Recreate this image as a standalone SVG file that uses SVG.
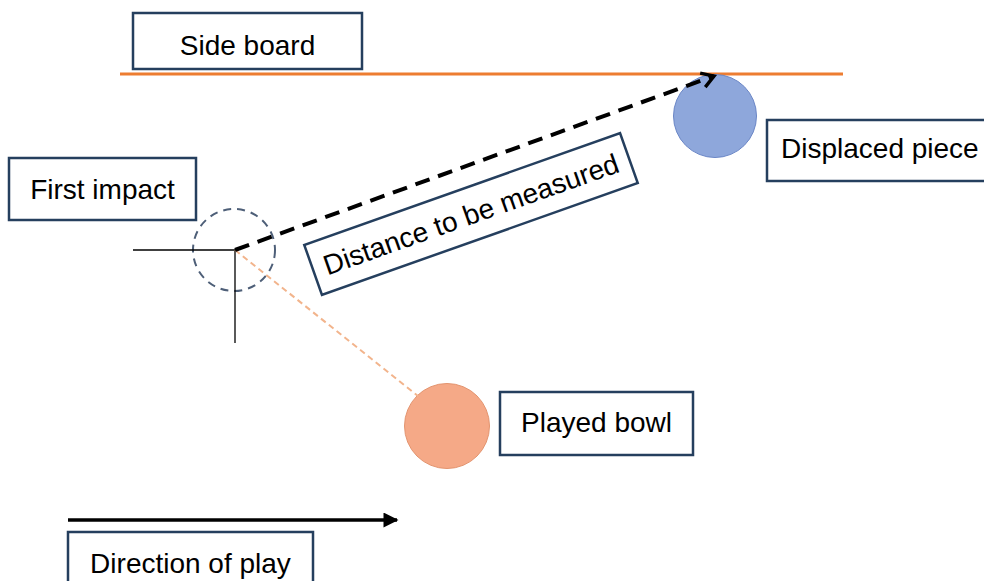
<svg xmlns="http://www.w3.org/2000/svg" width="984" height="581" viewBox="0 0 984 581">
  <defs>
    <style>
      .box { fill: #ffffff; stroke: #253f5e; stroke-width: 2.5; }
      .lbl { font-family: "Liberation Sans", Arial, sans-serif; font-size: 28px; fill: #000000; }
      .mid { text-anchor: middle; }
    </style>
    <marker id="openHead" viewBox="0 0 20 20" refX="17" refY="10" markerWidth="20" markerHeight="20" markerUnits="userSpaceOnUse" orient="auto">
      <path d="M5,2.5 L17,10 L5,17.5" fill="none" stroke="#000" stroke-width="3.4" stroke-linejoin="miter"/>
    </marker>
    <marker id="solidHead" viewBox="0 0 10 10" refX="9" refY="5" markerWidth="17" markerHeight="15" markerUnits="userSpaceOnUse" orient="auto">
      <path d="M0,0 L10,5 L0,10 Z" fill="#000"/>
    </marker>
  </defs>

  <rect width="984" height="581" fill="#ffffff"/>

  <!-- side board line -->
  <line x1="120" y1="74" x2="843" y2="74" stroke="#ed7d31" stroke-width="3"/>

  <g id="first-impact-circle">
    <circle cx="234" cy="250" r="41" fill="none" stroke="#4e5f78" stroke-width="2" stroke-dasharray="8,6"/>
  </g>

  <g id="displaced-piece-circle">
    <circle cx="715" cy="116" r="41.5" fill="#8ea7db" stroke="#6a86c6" stroke-width="1"/>
  </g>

  <g id="played-bowl-circle">
    <circle cx="447" cy="426" r="42.5" fill="#f5a987" stroke="#e3946f" stroke-width="1"/>
  </g>

  <g id="connectors">
    <!-- crosshair -->
    <line x1="133" y1="250" x2="235" y2="250" stroke="#000" stroke-width="1.3"/>
    <line x1="235" y1="250" x2="235" y2="343" stroke="#000" stroke-width="1.3"/>
    <!-- orange dashed path of played bowl -->
    <line x1="235" y1="250" x2="418" y2="396" stroke="#f2b48c" stroke-width="2" stroke-dasharray="6,4"/>
    <!-- distance to be measured -->
    <line x1="235" y1="250" x2="714" y2="76" stroke="#000" stroke-width="4" stroke-dasharray="15,9" marker-end="url(#openHead)"/>
    <!-- direction of play -->
    <line x1="68" y1="520" x2="397" y2="520" stroke="#000" stroke-width="3.5" marker-end="url(#solidHead)"/>
  </g>

  <g id="side-board">
    <rect class="box" x="133" y="13" width="229" height="56"/>
    <text class="lbl mid" x="247.5" y="55">Side board</text>
  </g>

  <g id="displaced-piece">
    <rect class="box" x="767" y="120" width="230" height="61"/>
    <text class="lbl" x="781" y="158">Displaced piece</text>
  </g>

  <g id="first-impact">
    <rect class="box" x="9" y="158" width="187" height="62"/>
    <text class="lbl mid" x="102.5" y="199">First impact</text>
  </g>

  <g id="distance-label" transform="translate(471,214) rotate(-19.5)">
    <rect class="box" x="-167.5" y="-26.5" width="335" height="53"/>
    <text class="lbl mid" x="0" y="10">Distance to be measured</text>
  </g>

  <g id="played-bowl">
    <rect class="box" x="500" y="392" width="193" height="63"/>
    <text class="lbl mid" x="596.5" y="432">Played bowl</text>
  </g>

  <g id="direction-of-play">
    <rect class="box" x="68" y="532" width="245" height="60"/>
    <text class="lbl mid" x="190.5" y="573">Direction of play</text>
  </g>
</svg>
